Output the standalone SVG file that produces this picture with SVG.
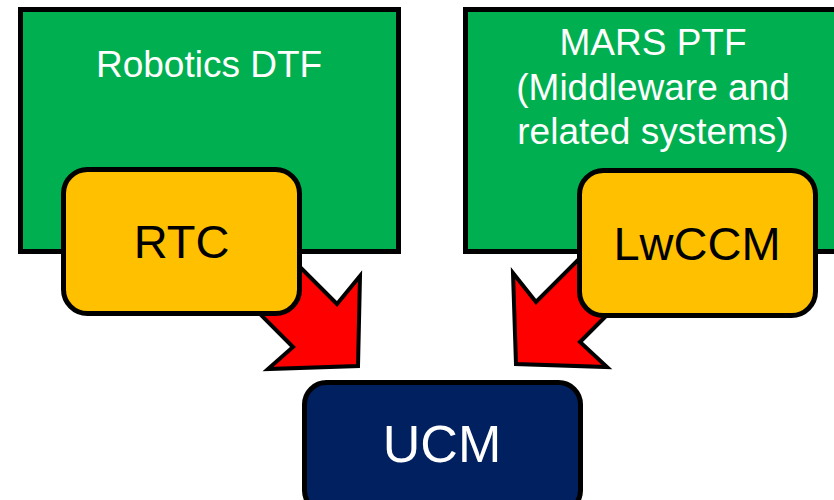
<svg xmlns="http://www.w3.org/2000/svg" width="834" height="500" viewBox="0 0 834 500">
  <style>
    .group { fill: #00B050; stroke: #000; stroke-width: 5; }
    .comp { fill: #FFC000; stroke: #000; stroke-width: 5; }
    .std { fill: #002060; stroke: #000; stroke-width: 5; }
    .flow { fill: #FF0000; stroke: #000; stroke-width: 4; stroke-linejoin: miter; }
    text { font-family: "Liberation Sans", Arial, sans-serif; text-anchor: middle; }
    .lbl-w { fill: #FFFFFF; font-size: 37px; }
    .lbl-b { fill: #000000; font-size: 47px; }
    .lbl-ucm { fill: #FFFFFF; font-size: 52px; }
  </style>

  <!-- Task force groups -->
  <g id="robotics-dtf">
    <rect class="group" x="20.5" y="9.5" width="378" height="242"/>
    <text class="lbl-w" x="209" y="77">Robotics DTF</text>
  </g>
  <g id="mars-ptf">
    <rect class="group" x="465.5" y="9.5" width="380" height="242"/>
    <text class="lbl-w" x="653" y="55">MARS PTF</text>
    <text class="lbl-w" x="653" y="100">(Middleware and</text>
    <text class="lbl-w" x="653" y="144">related systems)</text>
  </g>

  <!-- Block arrows into UCM -->
  <g id="connectors">
    <path class="flow" d="M 240,207 L 337,304 L 360,276 L 358,366 L 268,369 L 293,347 L 200,254 Z"/>
    <path class="flow" d="M 640,198 L 536,302 L 513,273 L 516,364 L 607,367 L 580,342 L 680,242 Z"/>
  </g>

  <!-- Component models -->
  <g id="rtc">
    <rect class="comp" x="63.5" y="169.5" width="236" height="144" rx="24"/>
    <text class="lbl-b" x="181.5" y="258">RTC</text>
  </g>
  <g id="lwccm">
    <rect class="comp" x="579.5" y="170.5" width="236" height="145" rx="24"/>
    <text class="lbl-b" x="697" y="260">LwCCM</text>
  </g>
  <g id="ucm">
    <rect class="std" x="304.5" y="382.5" width="276" height="130" rx="22"/>
    <text class="lbl-ucm" x="442" y="462">UCM</text>
  </g>
</svg>
